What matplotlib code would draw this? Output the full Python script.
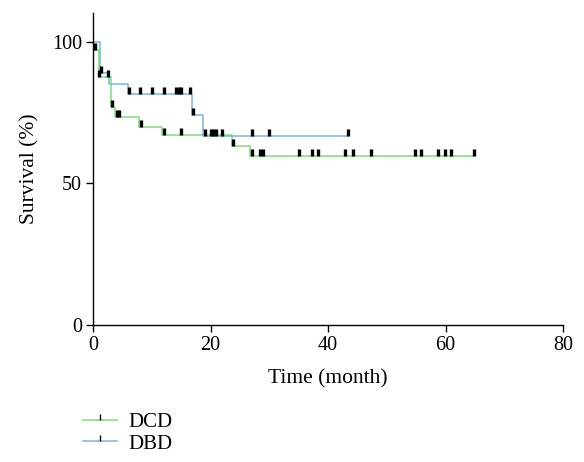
import numpy as np
import matplotlib
matplotlib.use('Agg')
import matplotlib.pyplot as plt
from matplotlib.lines import Line2D

# Kaplan-Meier step data (time in months, survival in %)
dcd_times = [0, 0.2, 1.0, 3.0, 3.7, 7.9, 11.8, 23.7, 26.8]
dcd_surv = [100, 97.1, 87.5, 76.9, 73.6, 70.0, 67.1, 63.3, 59.7]
dcd_end = 65.0
dcd_censor = [0.3, 1.1, 2.6, 3.2, 4.1, 4.5, 8.1, 12.0, 15.0, 23.9, 27.0, 28.4,
              29.0, 35.0, 37.3, 38.3, 42.9, 44.3, 47.3, 54.8, 55.9, 58.8,
              59.9, 60.9, 64.9]

dbd_times = [0, 1.2, 2.7, 5.9, 16.8, 18.8]
dbd_surv = [100, 88.9, 85.0, 81.5, 74.2, 66.6]
dbd_end = 43.4
dbd_censor = [1.3, 6.2, 8.0, 10.0, 12.0, 14.2, 14.6, 15.0, 16.5, 17.0, 19.0,
              20.0, 20.5, 21.0, 22.0, 27.0, 30.0, 43.4]

green = '#78e078'
blue = '#78b4e6'

# censor tick sits on top of the line
tick_marker = [(0, 0), (0, 1)]


def step_value(times, surv, t):
    idx = np.searchsorted(times, t, side='right') - 1
    return np.array(surv)[idx]


def draw_curve(ax, times, surv, end, censor, color):
    xs = list(times) + [end]
    ys = list(surv) + [surv[-1]]
    ax.step(xs, ys, where='post', color=color, linewidth=1.1, zorder=2)
    cy = step_value(times, surv, censor)
    ax.plot(censor, cy, linestyle='none', marker=tick_marker, markersize=10,
            markeredgewidth=2.4, color='black', zorder=3)


fig = plt.figure(figsize=(5.84, 4.62), dpi=100)
ax = fig.add_axes([93 / 584, 1 - 325 / 462, 470 / 584, 312 / 462])

draw_curve(ax, dcd_times, dcd_surv, dcd_end, dcd_censor, green)
draw_curve(ax, dbd_times, dbd_surv, dbd_end, dbd_censor, blue)

ax.set_xlim(0, 80)
ax.set_ylim(0, 110.2)
ax.set_xticks([0, 20, 40, 60, 80])
ax.set_yticks([0, 50, 100])
ax.spines['top'].set_visible(False)
ax.spines['right'].set_visible(False)
for s in ['left', 'bottom']:
    ax.spines[s].set_linewidth(1.0)
ax.tick_params(direction='out', length=5, width=1.0, labelsize=14.5,
               pad=3)
for lbl in ax.get_xticklabels() + ax.get_yticklabels():
    lbl.set_fontfamily('Liberation Serif')

ax.set_xlabel('Time (month)', fontsize=15.5, family='Liberation Serif', labelpad=10)
ax.set_ylabel('Survival (%)', fontsize=15.5, family='Liberation Serif', labelpad=9)

handles = [
    Line2D([], [], color=green, linewidth=1.1, marker=tick_marker,
           markersize=8, markeredgewidth=1.0, markeredgecolor='black'),
    Line2D([], [], color=blue, linewidth=1.1, marker=tick_marker,
           markersize=8, markeredgewidth=1.0, markeredgecolor='black'),
]
fig.legend(handles, ['DCD', 'DBD'], loc='upper left',
           bbox_to_anchor=(75 / 584, 1 - 404 / 462), frameon=False,
           prop={'family': 'Liberation Serif', 'size': 15},
           handlelength=1.6, handletextpad=0.55, labelspacing=0.1,
           numpoints=1, borderaxespad=0)

fig.savefig('out.png', dpi=100)
